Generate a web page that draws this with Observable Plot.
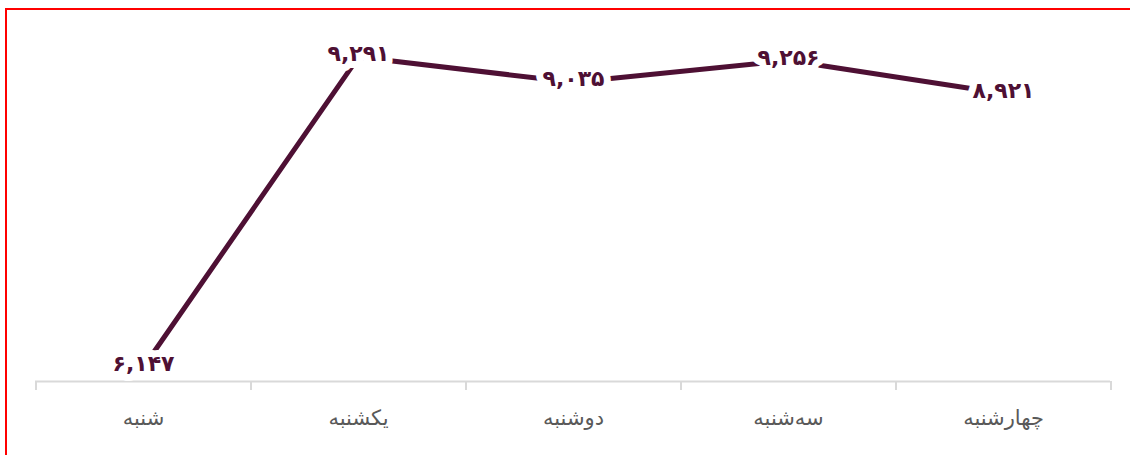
<!DOCTYPE html>
<html lang="fa">
<head>
<meta charset="utf-8">
<script src="https://cdn.jsdelivr.net/npm/d3@7"></script>
<script src="https://cdn.jsdelivr.net/npm/@observablehq/plot@0.6"></script>
<style>
  html, body { margin: 0; padding: 0; background: #fff; overflow: hidden; }
  body { width: 1130px; height: 455px; position: relative; font-family: "DejaVu Sans", "Noto Sans", sans-serif; }
  #frame { position: absolute; left: 5px; top: 8px; width: 1200px; height: 500px; border: 2px solid #ff0000; box-sizing: border-box; }
  #chart { position: absolute; left: 0; top: 0; }
</style>
</head>
<body>
<div id="frame"></div>
<div id="chart"></div>
<script>
const days = ["شنبه", "یکشنبه", "دوشنبه", "سه‌شنبه", "چهارشنبه"];
const values = [6147, 9291, 9035, 9256, 8921];
const yDomain = [6000, 9500];

const data = days.map((d, i) => ({day: d, value: values[i]}));
const fa = s => s.replace(/\d/g, c => "۰۱۲۳۴۵۶۷۸۹"[+c]);
const fmt = v => fa(d3.format(",")(v));

const lineColor = "#4e1034";
const axisColor = "#d9d9d9";
const bw = 1075 / 5;

const chart = Plot.plot({
  width: 1130,
  height: 455,
  marginLeft: 35,
  marginRight: 20,
  marginTop: 36,
  marginBottom: 74,
  style: {fontFamily: "\"DejaVu Sans\", sans-serif", background: "transparent"},
  x: {type: "point", domain: days, padding: 0.5, axis: null, label: null},
  y: {domain: yDomain, axis: null},
  marks: [
    Plot.ruleY([yDomain[0]], {stroke: axisColor, strokeWidth: 2}),
    Plot.axisX({ticks: days, tickSize: 9, dx: -bw / 2, text: null, label: null, stroke: axisColor, strokeWidth: 2}),
    Plot.axisX({ticks: days.slice(-1), tickSize: 9, dx: bw / 2, text: null, label: null, stroke: axisColor, strokeWidth: 2}),
    Plot.axisX({ticks: days, tickSize: 0, tickPadding: 29, fontSize: 21, fill: "#595959", label: null, tickFormat: d => d}),
    Plot.line(data, {x: "day", y: "value", stroke: lineColor, strokeWidth: 5, strokeLinecap: "butt"}),
    Plot.text(data, {x: "day", y: "value", text: d => fmt(d.value), fill: lineColor, fontSize: 22, fontWeight: "bold", stroke: "white", strokeWidth: 14, dy: -3})
  ]
});
document.getElementById("chart").appendChild(chart);
</script>
</body>
</html>
